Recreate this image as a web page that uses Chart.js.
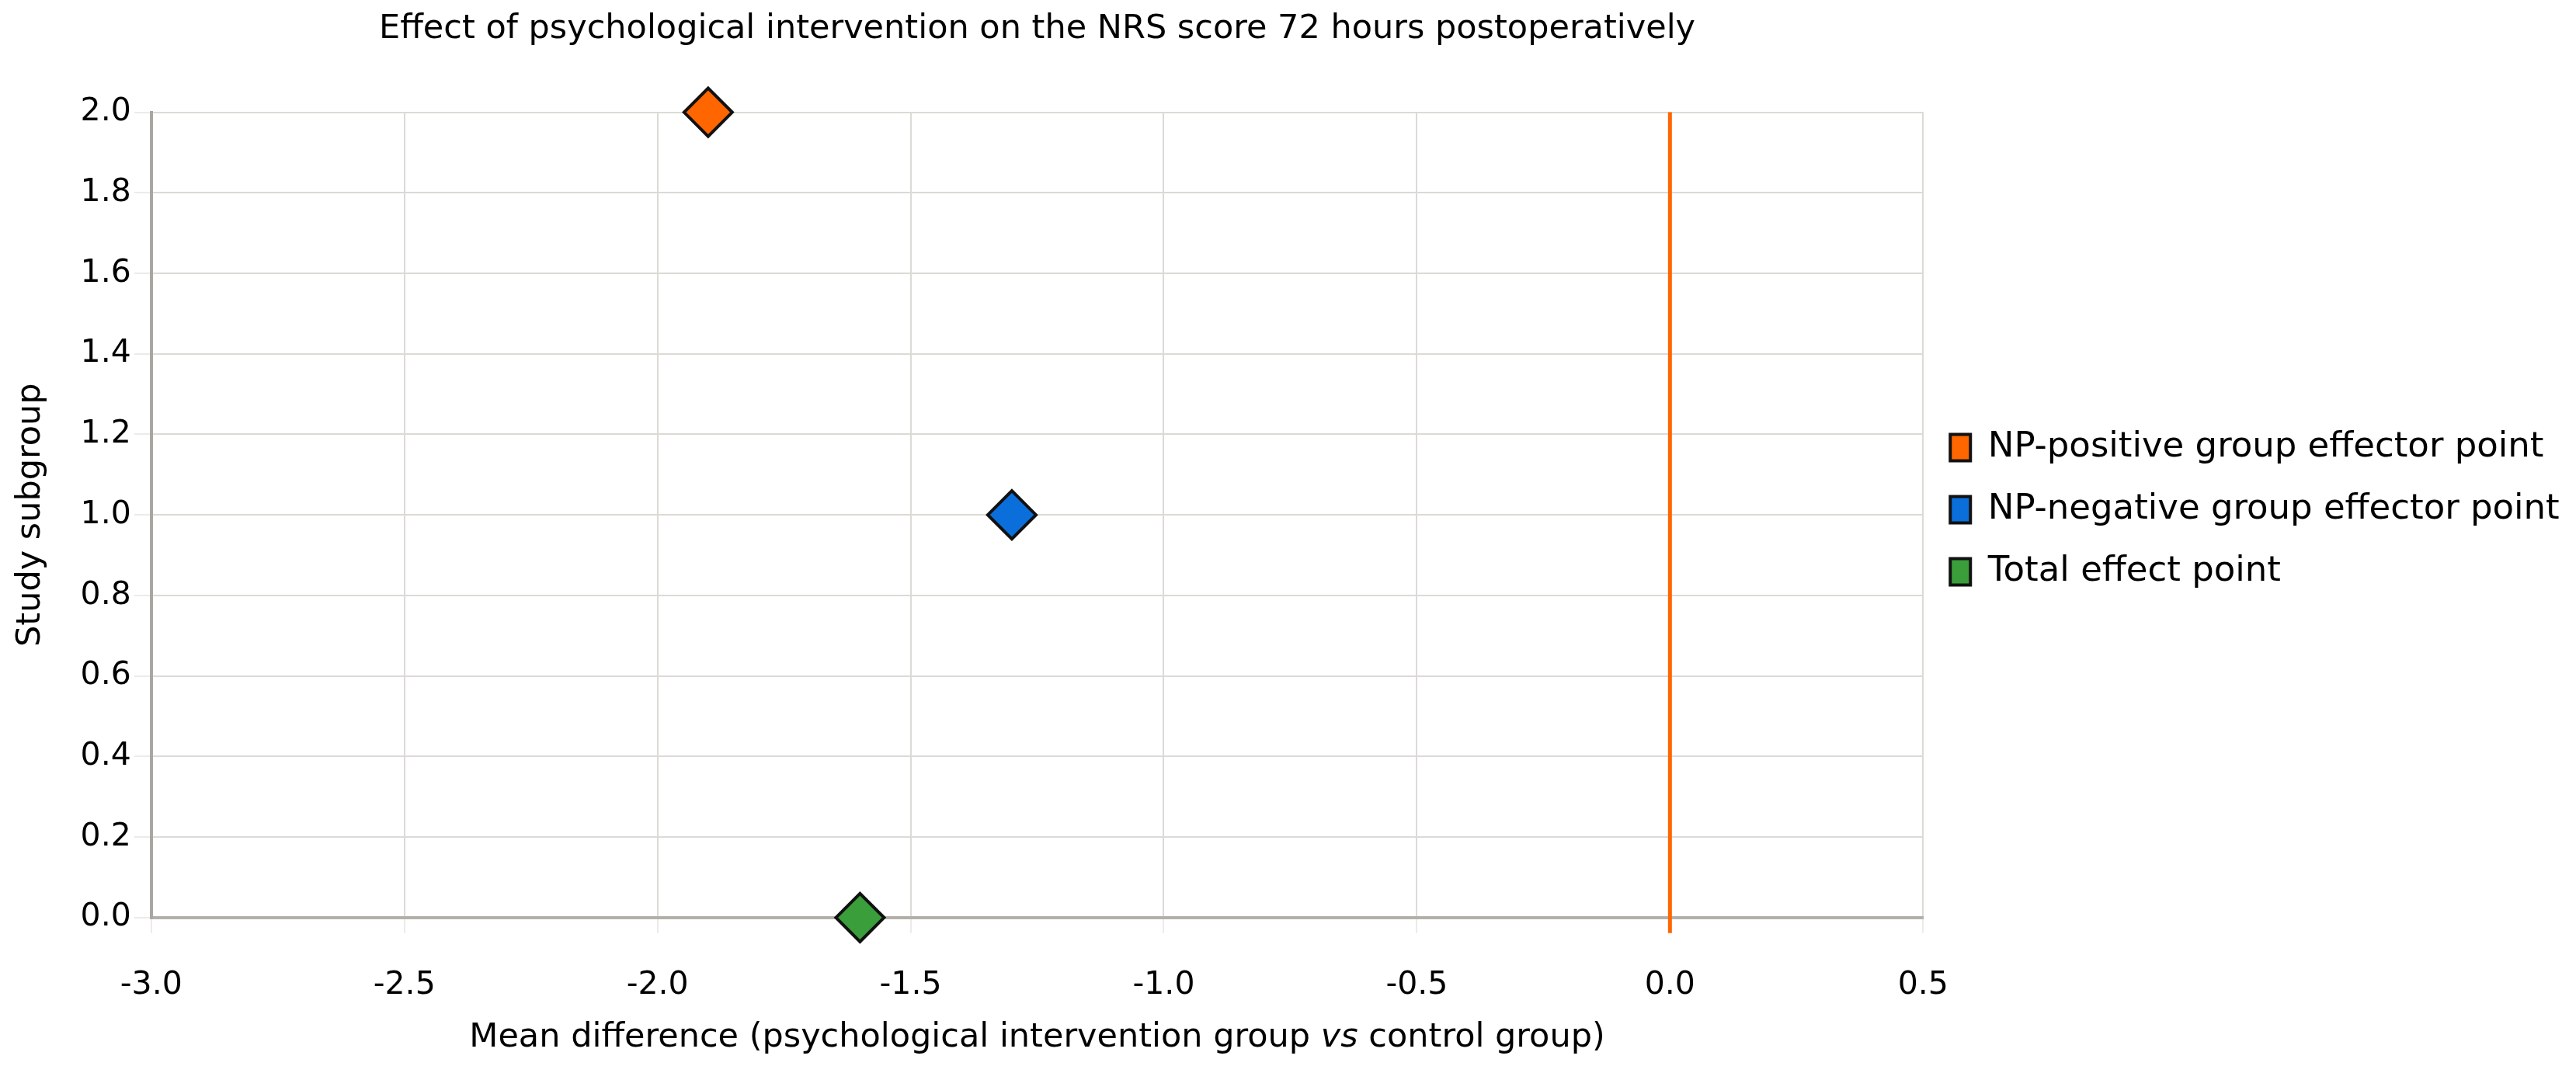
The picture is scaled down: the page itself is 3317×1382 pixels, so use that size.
<!DOCTYPE html>
<html>
<head>
<meta charset="utf-8">
<script src="https://cdn.jsdelivr.net/npm/chart.js@4.4.1/dist/chart.umd.min.js"></script>
<style>
  html, body { margin: 0; padding: 0; background: #ffffff; }
  #wrap { width: 3317px; height: 1382px; position: relative; }
</style>
</head>
<body>
<div id="wrap"><canvas id="graficoNRS"></canvas></div>
<script>
// dados do gráfico
const seriesNames = ['NP-positive group effector point', 'NP-negative group effector point', 'Total effect point'];
const seriesColors = ['#FF6600', '#0B6FDB', '#3A9E3A'];
const meanDiff = [-1.9, -1.3, -1.6];     // eixo x
const subgroup = [2.0, 1.0, 0.0];        // eixo y
const xTicks = [-3.0, -2.5, -2.0, -1.5, -1.0, -0.5, 0.0, 0.5];
const yTicks = [0.0, 0.2, 0.4, 0.6, 0.8, 1.0, 1.2, 1.4, 1.6, 1.8, 2.0];
const refLineX = 0;

const chartTitle = 'Effect of psychological intervention on the NRS score 72 hours postoperatively';
const xTitleParts = [
    { t: 'Mean difference (psychological intervention group ', i: false },
    { t: 'vs', i: true },
    { t: ' control group)', i: false }
];

const FONTE = 'DejaVu Sans';
const TAM_TICK = 41;
const TAM_TITULO = 43;
const TAM_LEGENDA = 45;

document.addEventListener('DOMContentLoaded', () => {
    const ctx = document.getElementById('graficoNRS').getContext('2d');

    // linha vertical laranja em x = 0
    const linhaReferencia = {
        id: 'linhaReferencia',
        afterDatasetsDraw(chart) {
            const { ctx, chartArea, scales } = chart;
            const x = scales.x.getPixelForValue(refLineX);
            ctx.save();
            ctx.strokeStyle = '#FF6600';
            ctx.lineWidth = 5;
            ctx.beginPath();
            ctx.moveTo(x, chartArea.top);
            ctx.lineTo(x, chartArea.bottom + 20);
            ctx.stroke();
            ctx.restore();
        }
    };

    // titulos desenhados sobre a area do grafico (o "vs" em italico)
    const titulos = {
        id: 'titulos',
        afterDraw(chart) {
            const { ctx, chartArea } = chart;
            const centro = (chartArea.left + chartArea.right) / 2;
            ctx.save();
            ctx.fillStyle = '#000';
            ctx.textBaseline = 'middle';

            ctx.font = TAM_TITULO + 'px "' + FONTE + '"';
            ctx.textAlign = 'center';
            const tt = chart.titleBlock;
            ctx.fillText(chartTitle, centro, tt.top + 12 + TAM_TITULO * 0.6);

            let total = 0;
            xTitleParts.forEach(p => {
                ctx.font = (p.i ? 'italic ' : '') + TAM_TITULO + 'px "' + FONTE + '"';
                p.w = ctx.measureText(p.t).width;
                total += p.w;
            });
            let x = centro - total / 2;
            const y = chart.scales.x.top + 155;
            ctx.textAlign = 'left';
            xTitleParts.forEach(p => {
                ctx.font = (p.i ? 'italic ' : '') + TAM_TITULO + 'px "' + FONTE + '"';
                ctx.fillText(p.t, x, y);
                x += p.w;
            });
            ctx.restore();
        }
    };

    const datasets = seriesNames.map((nome, i) => ({
        label: nome,
        data: [{ x: meanDiff[i], y: subgroup[i] }],
        backgroundColor: seriesColors[i],
        borderColor: '#000000',
        borderWidth: 2,
        pointStyle: 'rectRot',
        pointRadius: 31,
        pointHoverRadius: 31,
        pointBackgroundColor: seriesColors[i],
        pointBorderColor: '#111111',
        pointBorderWidth: 4,
        showLine: false,
        clip: false
    }));

    new Chart(ctx, {
        type: 'scatter',
        data: { datasets },
        plugins: [linhaReferencia, titulos],
        options: {
            responsive: true,
            maintainAspectRatio: false,
            devicePixelRatio: 1,
            animation: false,
            layout: { padding: { left: 14, right: 20, top: 0, bottom: 9 } },
            scales: {
                x: {
                    type: 'linear',
                    min: xTicks[0],
                    max: xTicks[xTicks.length - 1],
                    afterBuildTicks: axis => { axis.ticks = xTicks.map(v => ({ value: v })); },
                    ticks: {
                        color: '#000',
                        font: { family: FONTE, size: TAM_TICK },
                        padding: 43,
                        callback: v => v.toFixed(1)
                    },
                    grid: { color: '#dcdad6', lineWidth: 2, tickLength: 20, tickColor: '#ecebea' },
                    border: { color: '#b3b0ac', width: 4 },
                    title: {
                        display: true,
                        text: 'Mean difference (psychological intervention group vs control group)',
                        color: 'rgba(0,0,0,0)',
                        font: { family: FONTE, size: 30 },
                        padding: { top: 0, bottom: 0 }
                    }
                },
                y: {
                    type: 'linear',
                    min: yTicks[0],
                    max: yTicks[yTicks.length - 1],
                    afterBuildTicks: axis => { axis.ticks = yTicks.map(v => ({ value: v })); },
                    ticks: {
                        color: '#000',
                        font: { family: FONTE, size: TAM_TICK },
                        padding: 4,
                        callback: v => v.toFixed(1)
                    },
                    grid: { color: '#dcdad6', lineWidth: 2, tickLength: 22, tickColor: '#ecebea' },
                    border: { color: '#a9a6a2', width: 4 },
                    title: {
                        display: true,
                        text: 'Study subgroup',
                        color: '#000',
                        font: { family: FONTE, size: TAM_TITULO },
                        padding: { top: 0, bottom: 34 }
                    }
                }
            },
            plugins: {
                title: {
                    display: true,
                    text: chartTitle,
                    color: 'rgba(0,0,0,0)',
                    font: { family: FONTE, size: TAM_TITULO, weight: 'normal' },
                    padding: { top: 12, bottom: 81 }
                },
                legend: {
                    display: true,
                    position: 'right',
                    align: 'start',
                    title: {
                        display: true,
                        text: ' ',
                        color: 'rgba(0,0,0,0)',
                        font: { family: FONTE, size: 10 },
                        padding: { top: 507, bottom: 0 }
                    },
                    labels: {
                        color: '#000',
                        font: { family: FONTE, size: TAM_LEGENDA },
                        boxWidth: 26,
                        boxHeight: 34,
                        padding: 35
                    }
                },
                tooltip: { enabled: false }
            }
        }
    });
});
</script>
</body>
</html>
